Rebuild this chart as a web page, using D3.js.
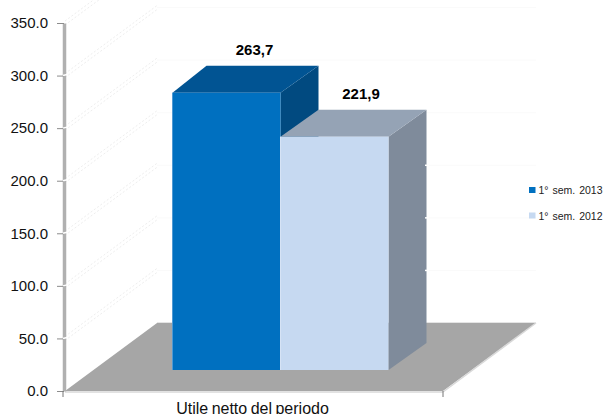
<!DOCTYPE html>
<html>
<head>
<meta charset="utf-8">
<script src="https://cdnjs.cloudflare.com/ajax/libs/d3/7.8.5/d3.min.js"></script>
<style>
html, body { margin: 0; padding: 0; background: #fff; }
svg { display: block; font-family: "Liberation Sans", Arial, sans-serif; }
</style>
</head>
<body>
<svg id="chart" width="604" height="414"></svg>
<script>
// Chart data
const categories = ["Utile netto del periodo"];
const seriesNames = ["1° sem. 2013", "1° sem. 2012"];
const seriesValues = [263.7, 221.9];
const valueLabels = ["263,7", "221,9"];
const yTicks = [0, 50, 100, 150, 200, 250, 300, 350];

// Face colours per series: front, top, side
const faces = [
  { front: "#0070c0", top: "#015493", side: "#014a80", edge: "#4f9ad4" },
  { front: "#c6d9f1", top: "#95a3b5", side: "#7f8b9b", edge: "#d6e3f5" }
];

const svg = d3.select("#chart");

const y = d3.scaleLinear().domain([0, 350]).range([391, 23]);
const barBase = 370;               // floor line the bars stand on
const depth = { x: 92, y: 68 };    // wall offset of the 3-D box
const barDepth = { x: 38, y: 27 }; // offset of a bar's own depth

const x0 = d3.scaleBand().domain(categories).range([65, 497]);
const x1 = d3.scaleBand().domain(d3.range(seriesValues.length))
  .range([x0(categories[0]) + 107.5, x0(categories[0]) + 323.5]);

const poly = pts => pts.map(p => p.join(",")).join(" ");

// Floor
svg.append("polygon")
  .attr("points", poly([[65, 391], [157, 323], [536, 323], [443, 391]]))
  .attr("fill", "#a6a6a6");
svg.append("line")
  .attr("x1", 65).attr("x2", 443).attr("y1", 392).attr("y2", 392)
  .attr("stroke", "#d9d9d9").attr("stroke-width", 1.5);
svg.append("line")
  .attr("x1", 443).attr("x2", 536).attr("y1", 392).attr("y2", 323)
  .attr("stroke", "#d9d9d9").attr("stroke-width", 1.5);
svg.append("line")
  .attr("x1", 157).attr("x2", 536).attr("y1", 322.5).attr("y2", 322.5)
  .attr("stroke", "#e4e4e4").attr("stroke-width", 1);

// Faint gridlines: doubled dashes on the side wall, a hairline on the back wall
const grid = svg.append("g").attr("fill", "none").attr("stroke-width", 1);
yTicks.filter(t => t > 0).forEach(t => {
  [0, 4].forEach(off => {
    grid.append("line")
      .attr("x1", 65).attr("y1", y(t) + off - 2)
      .attr("x2", 65 + depth.x).attr("y2", y(t) - depth.y + off - 2)
      .attr("stroke", "#eeeeee")
      .attr("stroke-dasharray", "2 2");
  });
  grid.append("line")
    .attr("x1", 65 + depth.x).attr("y1", y(t) - depth.y)
    .attr("x2", 536).attr("y2", y(t) - depth.y)
    .attr("stroke", "#fafafa");
});

// Value axis
const axis = svg.append("g").attr("transform", "translate(64,0)")
  .call(d3.axisLeft(y).tickValues(yTicks).tickFormat(d3.format(".1f"))
    .tickSize(7).tickSizeOuter(0).tickPadding(9));
axis.select(".domain").attr("stroke", "#b0b0b0").attr("stroke-width", 3.5);
axis.selectAll(".tick line").attr("stroke", "#8c8c8c").attr("stroke-width", 1);
axis.selectAll(".tick text")
  .attr("font-family", '"Liberation Sans", Arial, sans-serif')
  .attr("font-size", 15).attr("fill", "#111");

// Small white notches where the gridlines leave the axis
svg.selectAll(".notch").data(yTicks.filter(t => t > 0 && t < 350)).enter().append("line")
  .attr("x1", 63).attr("x2", 67)
  .attr("y1", d => y(d)).attr("y2", d => y(d) - 1)
  .attr("stroke", "#fff").attr("stroke-width", 1.5);

// Category axis tick marks and label
svg.selectAll(".xtick").data([63, 443]).enter().append("line")
  .attr("x1", d => d).attr("x2", d => d)
  .attr("y1", 391).attr("y2", 397)
  .attr("stroke", "#777");
svg.append("text")
  .attr("x", 252.5).attr("y", 414)
  .attr("text-anchor", "middle")
  .attr("font-size", 16).attr("word-spacing", -1).attr("fill", "#111")
  .text(categories[0]);

// Bars, drawn back to front
seriesValues.forEach((v, i) => {
  const c = faces[i];
  const left = x1(i);
  const right = left + x1.bandwidth();
  const top = y(v) - (y(0) - barBase);
  const backLeft = left + barDepth.x - (i === 0 ? 4 : 0);
  const g = svg.append("g");
  g.append("polygon").attr("fill", c.side).attr("points", poly([
    [right, top], [right + barDepth.x, top - barDepth.y],
    [right + barDepth.x, barBase - barDepth.y], [right, barBase]
  ]));
  g.append("polygon").attr("fill", c.top).attr("points", poly([
    [left, top], [backLeft, top - barDepth.y],
    [right + barDepth.x, top - barDepth.y], [right, top]
  ]));
  g.append("rect")
    .attr("x", left).attr("y", top)
    .attr("width", right - left).attr("height", barBase - top)
    .attr("fill", c.front);
  g.append("rect")
    .attr("x", left - 0.5).attr("y", top)
    .attr("width", 1).attr("height", barBase - top)
    .attr("fill", c.edge);
  g.append("text")
    .attr("x", [254.5, 361][i]).attr("y", top - 38)
    .attr("text-anchor", "middle")
    .attr("font-size", 15).attr("font-weight", "bold").attr("fill", "#000")
    .text(valueLabels[i]);
});

// White gridline stubs showing at the outer edge of the second bar
svg.selectAll(".stub").data([50, 100, 150]).enter().append("line")
  .attr("x1", 425).attr("x2", 429)
  .attr("y1", d => y(d) - depth.y).attr("y2", d => y(d) - depth.y)
  .attr("stroke", "#fff").attr("stroke-width", 1.5);

// Legend
const legend = svg.append("g");
seriesNames.forEach((name, i) => {
  const ly = 190 + i * 25.5;
  legend.append("rect")
    .attr("x", 529).attr("y", ly - 3).attr("width", 6.5).attr("height", 6)
    .attr("fill", faces[i].front);
  legend.append("text")
    .attr("x", 538.5).attr("y", ly + 4)
    .attr("font-size", 10.5).attr("word-spacing", 1).attr("fill", "#222")
    .text(name);
});
</script>
</body>
</html>
